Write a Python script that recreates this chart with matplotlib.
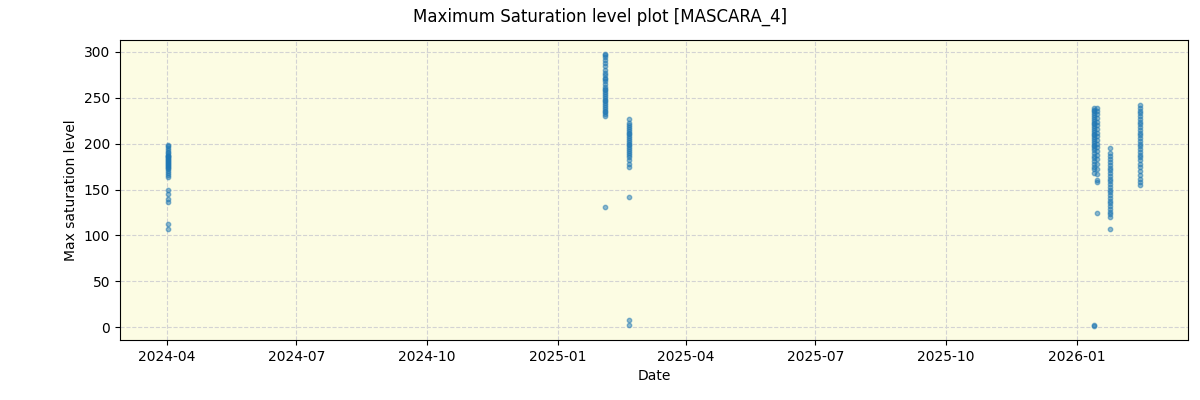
import pandas as pd
import matplotlib.pyplot as plt

c1_date = '2024-04-02'
c1_vals = [199, 197, 195, 193, 191, 190, 188, 187, 186, 185, 184, 183, 182, 181, 180, 179, 178, 177, 176,
           175, 174, 172, 170, 168, 166, 164, 150, 145, 140, 136, 112, 107]
c2_date = '2025-02-03'
c2_vals = [298, 296, 294, 291, 288, 285, 280, 277, 275, 272, 270, 268, 265, 262, 260, 258, 256, 254, 252,
           250, 248, 246, 244, 242, 240, 238, 236, 234, 232, 230, 131]
c3_date = '2025-02-20'
c3_vals = [227, 223, 220, 218, 216, 214, 212, 210, 208, 206, 204, 202, 200, 198, 196, 194, 192, 190, 188,
           185, 182, 178, 175, 142, 8, 3]
c4a_date = '2026-01-13'
c4a_vals = [239, 237, 235, 233, 231, 229, 227, 225, 223, 221, 219, 217, 215, 213, 211, 209, 207, 205, 203,
            201, 199, 197, 195, 193, 190, 187, 184, 181, 178, 175, 172, 168, 2, 1]
c4b_date = '2026-01-15'
c4b_vals = [239, 236, 232, 228, 224, 220, 216, 212, 208, 204, 200, 196, 192, 188, 183, 178, 172, 167, 160,
            158, 124]
c5_date = '2026-01-24'
c5_vals = [195, 190, 186, 183, 180, 177, 174, 171, 168, 165, 162, 159, 156, 153, 150, 147, 144, 141, 138,
           135, 132, 129, 126, 123, 120, 107]
c6_date = '2026-02-14'
c6_vals = [242, 239, 236, 233, 230, 227, 224, 221, 218, 215, 212, 209, 206, 203, 200, 197, 194, 191, 188,
           185, 182, 178, 175, 170, 166, 162, 158, 155]

clusters = [(c1_date, c1_vals), (c2_date, c2_vals), (c3_date, c3_vals), (c4a_date, c4a_vals),
            (c4b_date, c4b_vals), (c5_date, c5_vals), (c6_date, c6_vals)]

rows = []
for d, vals in clusters:
    for v in vals:
        rows.append({'date': pd.Timestamp(d), 'maxsat': v})
df = pd.DataFrame(rows)

fig = plt.figure(figsize=(12, 4), dpi=100)
ax = fig.add_axes([0.1, 0.15, 0.89, 0.75])
ax.set_facecolor('#fcfce3')
ax.scatter(df['date'], df['maxsat'], s=10, alpha=0.5, color='tab:blue')
ax.grid(True, linestyle='--', color='lightgray')
ax.set_axisbelow(True)
ax.set_xlim(pd.Timestamp('2024-02-28'), pd.Timestamp('2026-03-20'))
ax.set_xlabel('Date')
ax.set_ylabel('Max saturation level')
fig.suptitle('Maximum Saturation level plot [MASCARA_4]')

fig.savefig('out.png')
